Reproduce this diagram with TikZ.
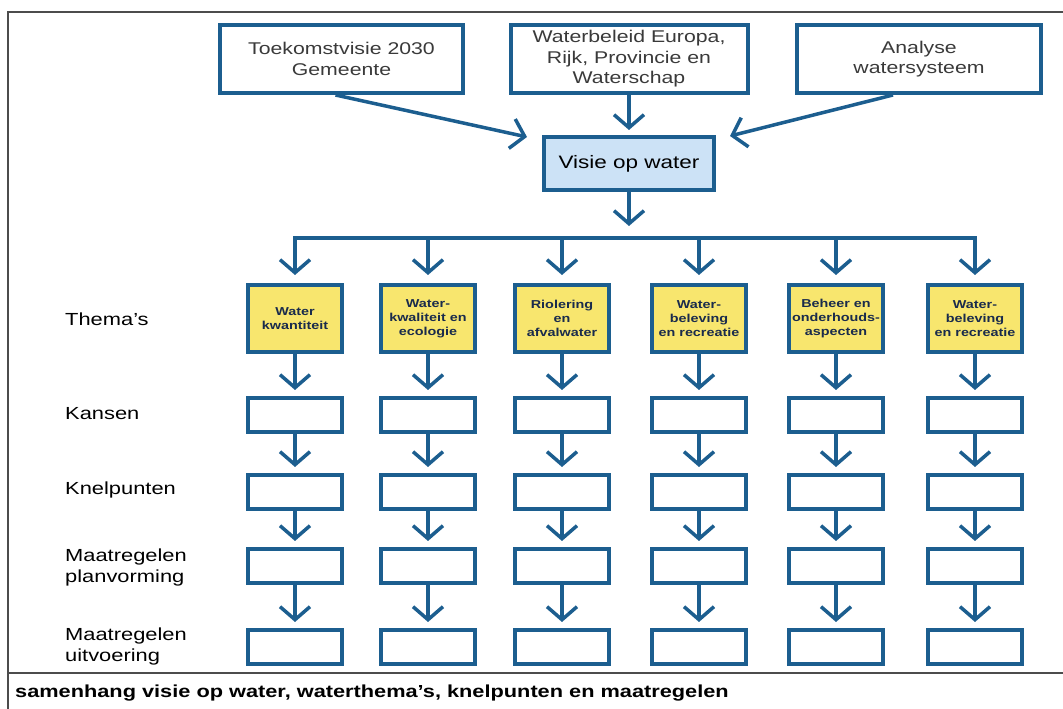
\documentclass[tikz,border=0pt]{standalone}
\usepackage{fontspec}
\setmainfont{Liberation Sans}[FakeStretch=1.25]
\usepackage{tikz}
\usetikzlibrary{positioning, arrows.meta}
\definecolor{wblue}{HTML}{1C5E8F}
\definecolor{wyellow}{HTML}{F8E66E}
\definecolor{wlight}{HTML}{CCE2F6}
\definecolor{wtext}{HTML}{3A3A3A}
\definecolor{wnavy}{HTML}{1A2B4C}

\begin{document}
\begin{tikzpicture}[x=1pt,y=1pt,on grid,
      box/.style={draw=wblue,line width=4pt,inner sep=0pt,align=center},
      topbox/.style={box,fill=white,minimum height=68pt,text=wtext,font=\fontsize{17}{20.5}\selectfont},
      visiebox/.style={box,fill=wlight,minimum width=170pt,minimum height=53pt,font=\fontsize{18}{20}\selectfont},
      themabox/.style={box,fill=wyellow,minimum width=94pt,minimum height=67pt,text=wnavy,font=\bfseries\fontsize{11.5}{14}\selectfont},
      stapbox/.style={box,fill=white,minimum width=94pt,minimum height=34pt},
      rowlabel/.style={anchor=west,align=left,inner sep=0pt,font=\fontsize{17.5}{21}\selectfont},
      arr/.style={color=wblue,line width=3.5pt,line join=miter,-{Straight Barb[length=13pt,width=30pt]},shorten >=6pt}]
      \useasboundingbox (0,0) rectangle (1063,709);
      \draw[gray!60!black,line width=1.2pt] (1063,697) -- (8,697) -- (8,0);
      \draw[gray!60!black,line width=1.2pt] (8,36) -- (1063,36);

      \node[topbox,minimum width=243pt] (toekomst) at (341.5,650) {Toekomstvisie 2030\\Gemeente};
      \node[topbox,minimum width=237pt] (beleid) at (629,650) {Waterbeleid Europa,\\Rijk, Provincie en\\Waterschap};
      \node[topbox,minimum width=244pt] (analyse) at (919,650) {Analyse\\watersysteem};
      \node[visiebox] (visie) [below=104.5pt of beleid] {Visie op water};
      \coordinate (inl) at (527,572);
      \coordinate (inr) at (730,573);
      \coordinate (hub) at (629,471);
      \path[arr]
      ([xshift=-6pt]toekomst.south) edge [shorten >=0pt] (inl)
      ([xshift=-26pt]analyse.south) edge [shorten >=0pt] (inr)
      (beleid) edge [shorten >=5pt] (visie)
      (visie) edge [shorten >=12pt] (hub);

      \foreach \x/\txt [count=\i] in {295/{Water\\kwantiteit}, 428/{Water-\\kwaliteit en\\ecologie},
            562/{Riolering\\en\\afvalwater}, 699/{Water-\\beleving\\en recreatie},
            836/{Beheer en\\onderhouds-\\aspecten}, 975/{Water-\\beleving\\en recreatie}} {
        \node[themabox] (t\i) at (\x,390.5) {\txt};
        \node[stapbox] (ka\i) [below=96.5pt of t\i] {};
        \node[stapbox] (kn\i) [below=77pt of ka\i] {};
        \node[stapbox] (mp\i) [below=74pt of kn\i] {};
        \node[stapbox] (mu\i) [below=81pt of mp\i] {};
        \path[arr]
        (t\i |- hub) edge [shorten >=8pt] (t\i)
        (t\i) edge (ka\i)
        (ka\i) edge (kn\i)
        (kn\i) edge (mp\i)
        (mp\i) edge (mu\i);
      }
      \draw[wblue,line width=3.5pt,line cap=rect] (t1 |- hub) -- (t6 |- hub);

      \node[rowlabel] (lthema) at (65,390) {Thema's};
      \node[rowlabel] (lkans) at (65,295) {Kansen};
      \node[rowlabel] (lknel) at (65,219) {Knelpunten};
      \node[rowlabel] (lplan) at (65,141.5) {Maatregelen\\planvorming};
      \node[rowlabel] (luitv) at (65,63) {Maatregelen\\uitvoering};
      \node[anchor=west,inner sep=0pt,font=\bfseries\fontsize{17.4}{20}\selectfont] (caption) at (15,16)
      {samenhang visie op water, waterthema's, knelpunten en maatregelen};
    \end{tikzpicture}
\end{document}
